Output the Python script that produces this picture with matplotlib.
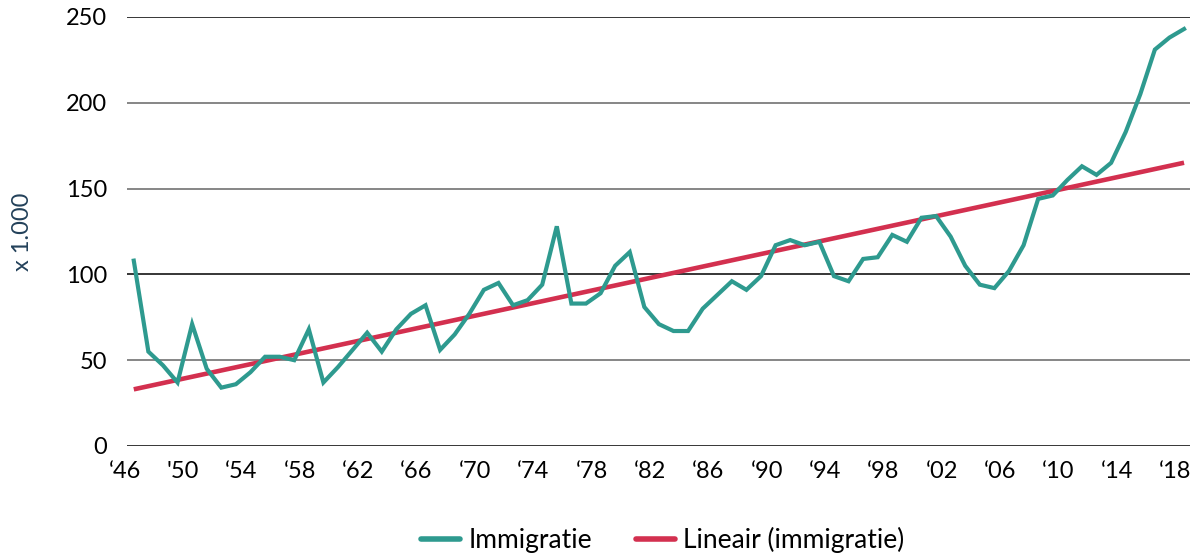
import numpy as np
import matplotlib.pyplot as plt
import matplotlib.transforms as mtransforms

plt.rcParams["font.family"] = ["Lato", "DejaVu Sans"]

years = np.arange(1946, 2019)

immigratie = [
    108, 55, 47, 37, 71, 45, 34, 36, 43, 52,
    52, 50, 68, 37, 46, 56, 66, 55, 68, 77,
    82, 56, 65, 77, 91, 95, 82, 85, 94, 128,
    83, 83, 89, 105, 113, 81, 71, 67, 67, 80,
    88, 96, 91, 99, 117, 120, 117, 119, 99, 96,
    109, 110, 123, 119, 133, 134, 122, 105, 94, 92,
    102, 117, 144, 146, 155, 163, 158, 165, 183, 205,
    231, 238, 243,
]

tick_years = list(range(1946, 2019, 4))
tick_labels = ["‘46", "'50", "‘54", "‘58", "‘62", "‘66", "‘70", "‘74", "‘78",
               "‘82", "‘86", "‘90", "‘94", "‘98", "‘02", "‘06", "‘10", "‘14", "‘18"]

y_ticks = [0, 50, 100, 150, 200, 250]

teal = "#2E9A8F"
red = "#D3304F"

# Excel-style linear trendline
slope, intercept = np.polyfit(years, immigratie, 1)
trend = slope * years + intercept

fig = plt.figure(figsize=(11.96, 5.57), dpi=100)
ax = fig.add_axes([0.106, 0.1993, 0.889, 0.7702])

ax.plot(years, trend, color=red, linewidth=3.3, solid_capstyle="butt",
        label="Lineair (immigratie)", zorder=3)
ax.plot(years, immigratie, color=teal, linewidth=3.0, solid_joinstyle="miter",
        label="Immigratie", zorder=4)

ax.set_xlim(1945.52, 2018.41)
ax.set_ylim(0, 250)

for y in y_ticks:
    ax.axhline(y, color="#000000" if y in (0, 100, 250) else "#666666",
               linewidth=1.1, zorder=1)

for s in ax.spines.values():
    s.set_visible(False)

ax.set_yticks(y_ticks)
ax.set_yticklabels([str(v) for v in y_ticks], fontsize=17)
ax.tick_params(axis="y", length=0, pad=14)

ax.set_xticks(tick_years)
ax.set_xticklabels(tick_labels, fontsize=17)
ax.tick_params(axis="x", length=0, pad=11)
offset = mtransforms.ScaledTranslation(-9 / 100, 0, fig.dpi_scale_trans)
for lbl in ax.get_xticklabels():
    lbl.set_transform(lbl.get_transform() + offset)

ax.set_ylabel("x 1.000", fontsize=17, color="#23415A", labelpad=24)

handles, labels = ax.get_legend_handles_labels()
leg = fig.legend(handles[::-1], labels[::-1], loc="lower center",
                 bbox_to_anchor=(0.554, -0.035), ncol=2, frameon=False,
                 fontsize=19, handlelength=1.5, columnspacing=1.65,
                 handletextpad=0.3)
for line in leg.get_lines():
    line.set_linewidth(4)
    line.set_solid_capstyle("round")

fig.savefig("out.png", dpi=100)
